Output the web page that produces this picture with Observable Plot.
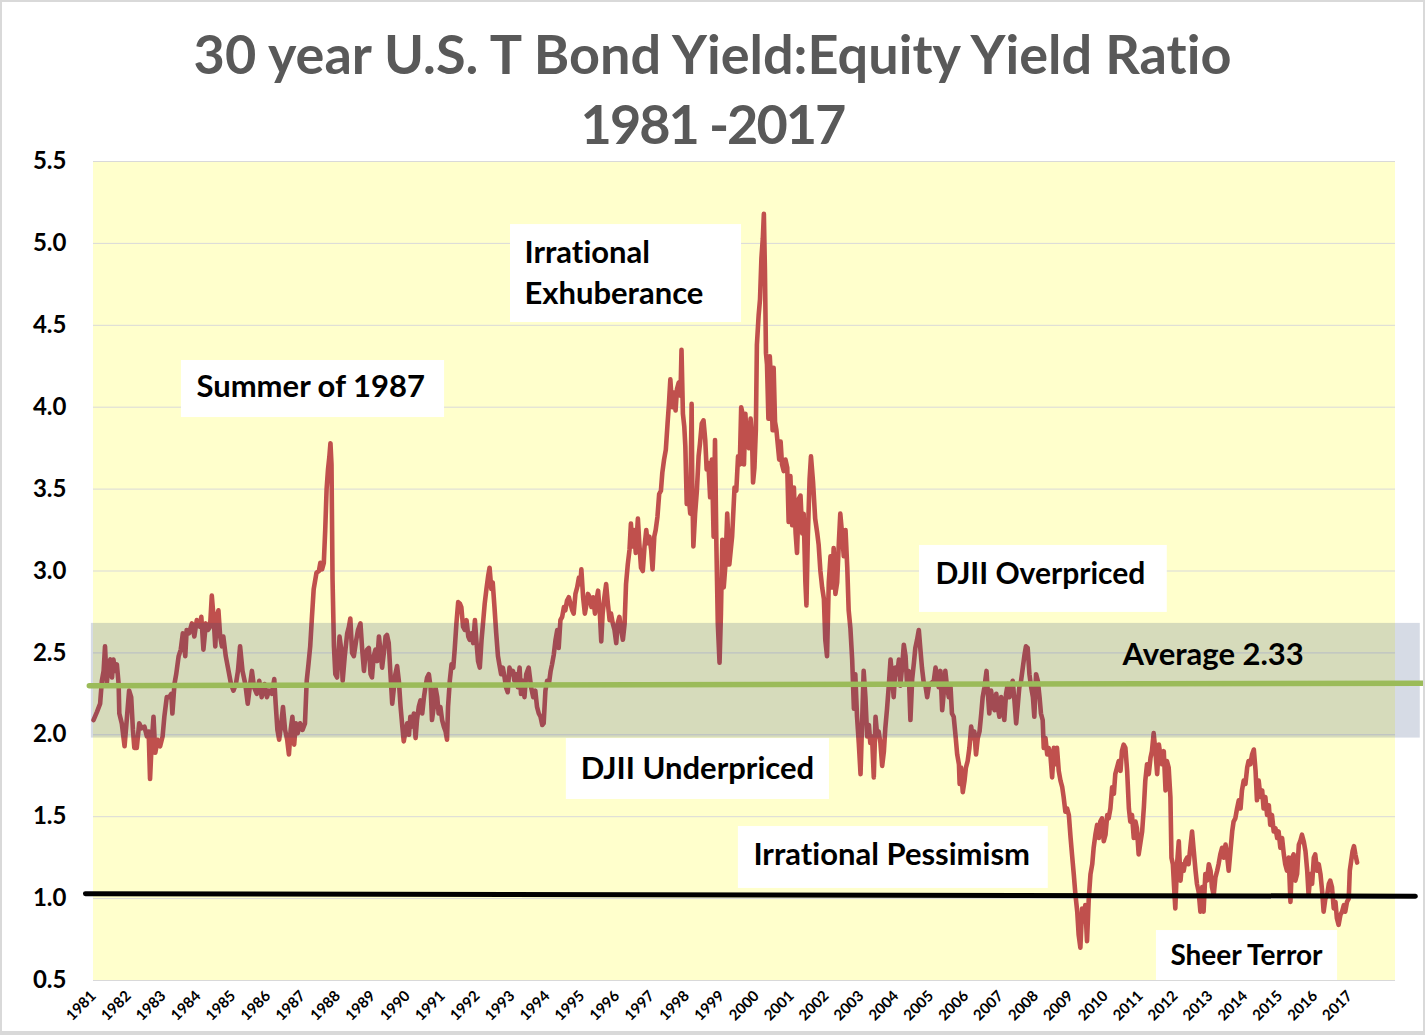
<!DOCTYPE html>
<html><head><meta charset="utf-8">
<script src="https://cdn.jsdelivr.net/npm/d3@7"></script>
<script src="https://cdn.jsdelivr.net/npm/@observablehq/plot@0.6"></script>
<style>
html,body{margin:0;padding:0;background:#fff;}
#wrap{position:relative;width:1425px;height:1035px;overflow:hidden;font-family:Lato,"Open Sans",sans-serif;font-variant-ligatures:none;}
#title{height:140px;box-sizing:border-box;padding-top:19px;text-align:center;font-weight:700;font-size:54px;line-height:70px;color:#595959;white-space:nowrap;font-variant-ligatures:none;}
#title .l2{letter-spacing:-2px;}
#chart svg{display:block;overflow:visible;font-variant-ligatures:none;}
#frame{position:absolute;left:0;top:0;width:1425px;height:1035px;box-sizing:border-box;border:2px solid #d9d9d9;border-bottom-width:4px;pointer-events:none;}
</style></head><body>
<div id="wrap">
  <div id="title"><div>30 year U.S. T Bond Yield:Equity Yield Ratio</div><div class="l2">1981 -2017</div></div>
  <div id="chart"></div>
  <div id="frame"></div>
</div>
<script>
// ---- DATA ----
const tickYears = [1981,1982,1983,1984,1985,1986,1987,1988,1989,1990,1991,1992,1993,1994,1995,1996,1997,1998,1999,2000,2001,2002,2003,2004,2005,2006,2007,2008,2009,2010,2011,2012,2013,2014,2015,2016,2017];
const yTicks = [0.5,1.0,1.5,2.0,2.5,3.0,3.5,4.0,4.5,5.0,5.5];

// [year, bond yield : equity yield ratio]
const ratioSeries = [
[1981.00,2.09],[1981.10,2.14],[1981.19,2.19],[1981.24,2.33],[1981.29,2.39],[1981.33,2.54],[1981.38,2.31],[1981.43,2.43],[1981.48,2.46],[1981.53,2.35],[1981.57,2.46],[1981.62,2.39],[1981.67,2.43],[1981.72,2.31],[1981.74,2.13],[1981.81,2.07],[1981.89,1.93],[1981.96,2.11],
[1982.02,2.27],[1982.08,2.23],[1982.13,2.03],[1982.17,1.92],[1982.24,1.92],[1982.31,2.07],[1982.38,2.04],[1982.46,2.05],[1982.53,1.99],[1982.58,2.02],[1982.62,1.73],[1982.67,1.96],[1982.72,2.11],[1982.77,1.89],[1982.84,1.97],[1982.91,1.93],[1982.98,1.99],
[1983.03,2.11],[1983.10,2.23],[1983.17,2.23],[1983.23,2.25],[1983.26,2.13],[1983.32,2.31],[1983.37,2.37],[1983.44,2.48],[1983.50,2.52],[1983.56,2.62],[1983.63,2.48],[1983.67,2.64],[1983.74,2.62],[1983.82,2.68],[1983.89,2.60],[1983.96,2.70],
[1984.04,2.66],[1984.09,2.72],[1984.15,2.52],[1984.22,2.68],[1984.28,2.64],[1984.34,2.66],[1984.39,2.85],[1984.44,2.72],[1984.49,2.54],[1984.53,2.72],[1984.58,2.76],[1984.63,2.60],[1984.68,2.54],[1984.72,2.60],[1984.79,2.48],[1984.87,2.39],[1984.94,2.31],
[1985.01,2.27],[1985.08,2.31],[1985.14,2.39],[1985.20,2.54],[1985.27,2.39],[1985.35,2.31],[1985.42,2.19],[1985.49,2.31],[1985.54,2.39],[1985.60,2.29],[1985.68,2.25],[1985.75,2.33],[1985.82,2.23],[1985.90,2.31],[1985.97,2.23],
[1986.03,2.27],[1986.11,2.25],[1986.18,2.34],[1986.22,2.19],[1986.27,2.03],[1986.32,1.97],[1986.38,2.07],[1986.43,2.17],[1986.49,2.03],[1986.55,1.97],[1986.60,1.88],[1986.65,2.03],[1986.70,2.11],[1986.75,1.94],[1986.80,2.07],[1986.85,2.01],[1986.92,2.07],[1986.99,2.03],
[1987.06,2.07],[1987.11,2.33],[1987.16,2.43],[1987.21,2.54],[1987.26,2.72],[1987.31,2.89],[1987.39,2.99],[1987.46,3.00],[1987.50,3.05],[1987.55,3.01],[1987.60,3.05],[1987.64,3.25],[1987.68,3.50],[1987.72,3.62],[1987.76,3.70],[1987.79,3.78],[1987.82,3.65],[1987.85,2.95],[1987.89,2.54],[1987.93,2.37],[1987.98,2.35],
[1988.05,2.60],[1988.10,2.52],[1988.14,2.33],[1988.20,2.48],[1988.27,2.62],[1988.32,2.66],[1988.36,2.71],[1988.41,2.50],[1988.46,2.48],[1988.53,2.58],[1988.58,2.64],[1988.65,2.68],[1988.70,2.52],[1988.75,2.39],[1988.79,2.48],[1988.84,2.52],[1988.89,2.53],[1988.94,2.37],[1988.98,2.35],
[1989.03,2.48],[1989.08,2.52],[1989.13,2.45],[1989.18,2.60],[1989.22,2.52],[1989.27,2.41],[1989.32,2.50],[1989.37,2.60],[1989.41,2.61],[1989.46,2.56],[1989.51,2.37],[1989.56,2.19],[1989.61,2.29],[1989.65,2.37],[1989.70,2.42],[1989.75,2.33],[1989.80,2.17],[1989.85,2.05],[1989.89,1.96],[1989.94,2.02],[1989.99,2.07],
[1990.04,2.00],[1990.08,2.11],[1990.13,2.05],[1990.18,2.13],[1990.23,1.98],[1990.27,2.09],[1990.32,2.17],[1990.37,2.21],[1990.42,2.13],[1990.47,2.23],[1990.51,2.29],[1990.56,2.35],[1990.61,2.37],[1990.66,2.29],[1990.70,2.09],[1990.75,2.17],[1990.80,2.29],[1990.85,2.23],[1990.89,2.13],[1990.94,2.17],[1990.99,2.09],
[1991.04,2.05],[1991.09,2.02],[1991.13,1.97],[1991.16,2.17],[1991.21,2.33],[1991.26,2.43],[1991.31,2.41],[1991.35,2.52],[1991.40,2.68],[1991.45,2.81],[1991.50,2.80],[1991.54,2.78],[1991.59,2.66],[1991.64,2.64],[1991.69,2.70],[1991.74,2.60],[1991.78,2.58],[1991.83,2.62],[1991.88,2.56],[1991.93,2.70],[1991.97,2.58],
[1992.02,2.45],[1992.07,2.41],[1992.12,2.58],[1992.17,2.70],[1992.21,2.80],[1992.26,2.89],[1992.31,2.97],[1992.35,3.02],[1992.40,2.89],[1992.44,2.93],[1992.49,2.78],[1992.54,2.62],[1992.59,2.48],[1992.63,2.43],[1992.68,2.37],[1992.73,2.41],[1992.78,2.35],[1992.82,2.29],[1992.87,2.26],[1992.92,2.41],[1992.97,2.37],
[1993.02,2.39],[1993.06,2.33],[1993.11,2.37],[1993.16,2.29],[1993.21,2.41],[1993.25,2.25],[1993.30,2.33],[1993.35,2.23],[1993.40,2.37],[1993.47,2.41],[1993.54,2.29],[1993.60,2.23],[1993.66,2.27],[1993.71,2.17],[1993.76,2.13],[1993.81,2.11],[1993.86,2.06],[1993.90,2.07],[1993.95,2.27],
[1994.00,2.33],[1994.05,2.31],[1994.10,2.39],[1994.14,2.43],[1994.19,2.49],[1994.24,2.58],[1994.29,2.64],[1994.33,2.53],[1994.38,2.70],[1994.43,2.72],[1994.48,2.78],[1994.52,2.76],[1994.57,2.82],[1994.62,2.84],[1994.67,2.80],[1994.72,2.76],[1994.76,2.74],[1994.81,2.86],[1994.86,2.90],[1994.91,2.96],[1994.95,2.92],[1994.98,3.01],
[1995.03,2.84],[1995.08,2.74],[1995.13,2.80],[1995.17,2.86],[1995.22,2.84],[1995.27,2.78],[1995.32,2.84],[1995.37,2.74],[1995.41,2.82],[1995.46,2.88],[1995.51,2.74],[1995.55,2.57],[1995.59,2.74],[1995.64,2.84],[1995.69,2.92],[1995.74,2.80],[1995.79,2.70],[1995.83,2.74],[1995.88,2.68],[1995.93,2.64],[1995.98,2.56],
[1996.02,2.68],[1996.07,2.72],[1996.12,2.64],[1996.17,2.58],[1996.22,2.68],[1996.26,2.92],[1996.31,3.04],[1996.36,3.13],[1996.40,3.29],[1996.44,3.15],[1996.49,3.25],[1996.54,3.11],[1996.60,3.32],[1996.64,3.17],[1996.69,3.02],[1996.74,3.00],[1996.79,3.15],[1996.84,3.25],[1996.88,3.17],[1996.93,3.21],[1996.98,3.13],
[1997.02,3.01],[1997.07,3.21],[1997.11,3.25],[1997.16,3.33],[1997.21,3.47],[1997.26,3.49],[1997.30,3.60],[1997.35,3.68],[1997.40,3.74],[1997.45,3.90],[1997.49,4.02],[1997.53,4.17],[1997.58,4.00],[1997.63,4.09],[1997.68,3.98],[1997.72,4.11],[1997.77,4.15],[1997.82,4.07],[1997.85,4.35],[1997.89,3.96],[1997.93,3.88],[1997.96,3.76],
[1998.00,3.41],[1998.06,3.45],[1998.10,3.35],[1998.14,4.02],[1998.16,3.49],[1998.19,3.15],[1998.24,3.35],[1998.29,3.49],[1998.34,3.70],[1998.38,3.78],[1998.43,3.90],[1998.48,3.92],[1998.53,3.80],[1998.57,3.62],[1998.62,3.66],[1998.67,3.45],[1998.72,3.68],[1998.77,3.21],[1998.81,3.80],[1998.85,3.15],[1998.89,2.68],[1998.94,2.44],[1998.98,2.74],
[1999.02,3.19],[1999.06,2.90],[1999.11,3.04],[1999.16,3.35],[1999.22,3.04],[1999.30,3.21],[1999.37,3.51],[1999.42,3.49],[1999.47,3.70],[1999.52,3.65],[1999.56,4.00],[1999.60,3.96],[1999.64,3.65],[1999.68,3.96],[1999.73,3.77],[1999.78,3.75],[1999.83,3.93],[1999.87,3.82],[1999.90,3.54],[1999.94,3.63],[1999.98,3.86],
[2000.01,4.38],[2000.06,4.56],[2000.10,4.66],[2000.14,4.91],[2000.18,5.03],[2000.21,5.18],[2000.24,4.84],[2000.27,4.33],[2000.30,4.26],[2000.34,3.93],[2000.38,4.31],[2000.42,4.14],[2000.46,3.86],[2000.49,4.24],[2000.53,3.91],[2000.57,3.86],[2000.61,3.77],[2000.65,3.68],[2000.69,3.79],[2000.73,3.65],[2000.78,3.61],[2000.83,3.68],[2000.88,3.63],[2000.92,3.30],[2000.97,3.58],
[2001.02,3.28],[2001.07,3.51],[2001.12,3.23],[2001.16,3.11],[2001.21,3.44],[2001.26,3.46],[2001.31,3.23],[2001.35,3.35],[2001.40,2.93],[2001.43,2.79],[2001.47,3.21],[2001.52,3.56],[2001.56,3.70],[2001.62,3.54],[2001.68,3.32],[2001.74,3.23],[2001.78,3.16],[2001.83,3.00],[2001.88,2.90],[2001.93,2.83],[2001.97,2.58],
[2002.02,2.48],[2002.07,2.93],[2002.12,3.09],[2002.17,2.90],[2002.21,3.14],[2002.26,2.86],[2002.31,2.93],[2002.36,3.18],[2002.40,3.35],[2002.45,3.23],[2002.50,3.09],[2002.55,3.25],[2002.60,3.02],[2002.64,2.76],[2002.69,2.65],[2002.74,2.46],[2002.79,2.16],[2002.83,2.37],[2002.88,2.11],[2002.93,1.95],[2002.98,1.76],
[2003.03,2.11],[2003.07,2.39],[2003.12,2.23],[2003.17,1.99],[2003.22,2.06],[2003.26,1.95],[2003.31,1.99],[2003.36,1.74],[2003.41,2.11],[2003.46,1.99],[2003.50,2.02],[2003.55,1.95],[2003.60,1.81],[2003.65,1.90],[2003.69,2.04],[2003.74,2.16],[2003.79,2.30],[2003.84,2.46],[2003.89,2.34],[2003.93,2.23],[2003.98,2.41],
[2004.03,2.37],[2004.08,2.46],[2004.12,2.30],[2004.17,2.41],[2004.22,2.55],[2004.27,2.48],[2004.31,2.32],[2004.36,2.39],[2004.41,2.09],[2004.46,2.34],[2004.51,2.44],[2004.55,2.53],[2004.60,2.58],[2004.65,2.64],[2004.70,2.51],[2004.74,2.41],[2004.79,2.32],[2004.84,2.30],[2004.89,2.23],[2004.94,2.30],
[2005.08,2.33],[2005.13,2.41],[2005.17,2.37],[2005.22,2.29],[2005.27,2.39],[2005.32,2.15],[2005.37,2.27],[2005.41,2.39],[2005.46,2.29],[2005.51,2.23],[2005.56,2.29],[2005.60,2.13],[2005.65,2.11],[2005.70,2.00],[2005.75,1.88],[2005.80,1.82],[2005.82,1.70],[2005.86,1.80],[2005.91,1.65],[2005.96,1.72],
[2006.00,1.80],[2006.05,1.84],[2006.10,1.92],[2006.15,2.05],[2006.20,1.98],[2006.24,2.02],[2006.29,1.88],[2006.34,1.98],[2006.39,2.02],[2006.44,2.13],[2006.48,2.23],[2006.53,2.29],[2006.59,2.39],[2006.63,2.25],[2006.67,2.13],[2006.72,2.27],[2006.77,2.19],[2006.82,2.15],[2006.87,2.25],[2006.91,2.17],[2006.96,2.11],
[2007.01,2.23],[2007.06,2.19],[2007.10,2.09],[2007.15,2.25],[2007.20,2.31],[2007.25,2.23],[2007.29,2.29],[2007.34,2.33],[2007.39,2.21],[2007.44,2.07],[2007.49,2.19],[2007.53,2.29],[2007.58,2.33],[2007.63,2.41],[2007.68,2.49],[2007.72,2.54],[2007.77,2.53],[2007.82,2.37],[2007.87,2.29],[2007.92,2.23],[2007.96,2.11],
[2008.01,2.37],[2008.06,2.33],[2008.11,2.23],[2008.15,2.13],[2008.20,2.09],[2008.23,1.92],[2008.28,1.98],[2008.33,1.88],[2008.37,1.92],[2008.42,1.88],[2008.47,1.74],[2008.52,1.92],[2008.57,1.82],[2008.61,1.92],[2008.66,1.78],[2008.71,1.72],[2008.76,1.68],[2008.80,1.62],[2008.85,1.53],[2008.90,1.55],[2008.95,1.51],
[2009.00,1.37],[2009.04,1.27],[2009.09,1.15],[2009.14,1.02],[2009.19,0.92],[2009.23,0.78],[2009.28,0.70],[2009.33,0.94],[2009.38,0.86],[2009.42,0.96],[2009.47,0.74],[2009.52,1.00],[2009.57,1.15],[2009.62,1.21],[2009.66,1.31],[2009.71,1.39],[2009.76,1.45],[2009.81,1.37],[2009.85,1.47],[2009.90,1.49],[2009.95,1.35],
[2010.00,1.39],[2010.05,1.51],[2010.09,1.49],[2010.14,1.55],[2010.19,1.68],[2010.24,1.64],[2010.28,1.76],[2010.33,1.80],[2010.38,1.84],[2010.43,1.78],[2010.47,1.90],[2010.52,1.94],[2010.57,1.92],[2010.62,1.78],[2010.67,1.55],[2010.71,1.47],[2010.76,1.51],[2010.81,1.37],[2010.86,1.47],[2010.90,1.43],[2010.95,1.27],
[2011.05,1.41],[2011.10,1.56],[2011.14,1.72],[2011.19,1.82],[2011.24,1.76],[2011.29,1.86],[2011.33,1.90],[2011.38,2.01],[2011.43,1.90],[2011.48,1.76],[2011.53,1.94],[2011.57,1.88],[2011.62,1.82],[2011.67,1.90],[2011.72,1.66],[2011.76,1.84],[2011.81,1.80],[2011.86,1.62],[2011.89,1.25],[2011.93,1.21],[2011.96,1.09],
[2012.00,0.94],[2012.05,1.21],[2012.10,1.35],[2012.15,1.11],[2012.19,1.21],[2012.24,1.17],[2012.29,1.23],[2012.34,1.25],[2012.38,1.21],[2012.43,1.31],[2012.48,1.41],[2012.53,1.29],[2012.58,1.17],[2012.62,1.09],[2012.67,1.04],[2012.72,0.92],[2012.77,1.07],[2012.81,0.92],[2012.86,1.15],[2012.91,1.11],[2012.96,1.21],
[2013.01,1.17],[2013.05,1.07],[2013.10,1.02],[2013.15,1.13],[2013.20,1.17],[2013.24,1.21],[2013.29,1.27],[2013.34,1.31],[2013.39,1.25],[2013.44,1.33],[2013.48,1.27],[2013.53,1.17],[2013.58,1.29],[2013.63,1.41],[2013.67,1.47],[2013.72,1.49],[2013.77,1.55],[2013.82,1.60],[2013.87,1.55],[2013.91,1.66],[2013.96,1.72],
[2014.01,1.70],[2014.06,1.80],[2014.10,1.84],[2014.15,1.82],[2014.20,1.88],[2014.25,1.91],[2014.30,1.78],[2014.34,1.60],[2014.39,1.72],[2014.44,1.62],[2014.49,1.66],[2014.53,1.55],[2014.58,1.62],[2014.63,1.51],[2014.68,1.57],[2014.72,1.45],[2014.77,1.51],[2014.82,1.41],[2014.87,1.43],[2014.92,1.37],[2014.96,1.41],
[2015.01,1.31],[2015.06,1.37],[2015.11,1.27],[2015.15,1.21],[2015.20,1.17],[2015.25,1.25],[2015.30,0.98],[2015.35,1.25],[2015.39,1.27],[2015.44,1.11],[2015.49,1.15],[2015.54,1.33],[2015.58,1.35],[2015.63,1.39],[2015.68,1.35],[2015.73,1.29],[2015.78,1.17],[2015.82,1.02],[2015.87,1.15],[2015.92,1.09],[2015.97,1.25],
[2016.01,1.27],[2016.06,1.17],[2016.11,1.21],[2016.16,1.15],[2016.21,1.04],[2016.25,0.92],[2016.30,1.00],[2016.35,1.02],[2016.40,1.09],[2016.44,1.11],[2016.49,1.07],[2016.54,0.94],[2016.59,0.98],[2016.63,0.88],[2016.68,0.84],[2016.73,0.90],[2016.78,0.92],[2016.83,0.96],[2016.87,0.92],[2016.92,0.98],[2016.97,1.00],
[2017.00,1.17],[2017.04,1.23],[2017.08,1.29],[2017.12,1.32],[2017.16,1.27],[2017.21,1.22]
];

const averageLine = [[1980.88, 2.30], [2019.18, 2.315]];   // drawn average level
const parityLine  = [[1980.77, 1.03], [2018.88, 1.015]];   // 1.0 threshold line
const averageBand = [1.98, 2.68];                           // shaded zone around average
const annotationTexts = ["Summer of 1987", "Irrational\nExhuberance", "DJII Overpriced", "Average 2.33", "DJII Underpriced", "Irrational Pessimism", "Sheer Terror"];

// ---- LAYOUT (positions in data units, kept apart from the data) ----
const plotArea = {x1: 1981, x2: 2018.31, y1: 0.5, y2: 5.5};
const bandSpan = {x1: 1980.94, x2: 2019.02};
const annotationLayout = [
  {box: [1983.52, 1991.06, 3.937, 4.285], at: [1983.95, 4.126], size: 31},
  {box: [1992.95, 1999.57, 4.517, 5.115], at: [1993.35, 4.816], size: 31},
  {box: [2004.67, 2011.77, 2.747, 3.156], at: [2005.13, 2.98],  size: 30},
  {box: null,                             at: [2010.49, 2.487], size: 31},
  {box: [1994.55, 2002.09, 1.605, 1.977], at: [1994.96, 1.791], size: 31},
  {box: [1999.48, 2008.36, 1.062, 1.440], at: [1999.91, 1.266], size: 31},
  {box: [2011.46, 2016.65, 0.5, 0.805],   at: [2011.86, 0.647], size: 28}
];

// ---- BUILD ----
const series = ratioSeries.map(([year, value]) => ({year, value}));
const avg = averageLine.map(([year, value]) => ({year, value}));
const par = parityLine.map(([year, value]) => ({year, value}));
const grid = yTicks.map(v => ({y: v, x1: plotArea.x1, x2: plotArea.x2}));
const boxes = annotationLayout.filter(d => d.box).map(d => ({x1: d.box[0], x2: d.box[1], y1: d.box[2], y2: d.box[3]}));
const labels = annotationTexts.map((t, i) => ({text: t, x: annotationLayout[i].at[0], y: annotationLayout[i].at[1], size: annotationLayout[i].size}));

const chart = Plot.plot({
  width: 1425, height: 895,
  marginLeft: 93, marginRight: 30, marginTop: 21, marginBottom: 55,
  x: {domain: [plotArea.x1, plotArea.x2], label: null},
  y: {domain: [plotArea.y1, plotArea.y2], label: null},
  style: {fontFamily: "Lato, 'Open Sans', sans-serif", color: "#000", background: "transparent", overflow: "visible"},
  marks: [
    Plot.rect([plotArea], {x1: "x1", x2: "x2", y1: "y1", y2: "y2", fill: "#FFFFCC"}),
    Plot.ruleY(grid, {y: "y", x1: "x1", x2: "x2", stroke: "#d9d9d9", strokeWidth: 1}),
    Plot.rect(boxes, {x1: "x1", x2: "x2", y1: "y1", y2: "y2", fill: "#ffffff"}),
    Plot.line(series, {x: "year", y: "value", stroke: "#C0504D", strokeWidth: 4.6, strokeLinejoin: "round", strokeLinecap: "round"}),
    Plot.rect([{x1: bandSpan.x1, x2: bandSpan.x2, y1: averageBand[0], y2: averageBand[1]}], {x1: "x1", x2: "x2", y1: "y1", y2: "y2", fill: "rgb(28,55,111)", fillOpacity: 0.18}),
    Plot.line(par, {x: "year", y: "value", stroke: "#000", strokeOpacity: 0.35, strokeWidth: 5, dy: 3, ariaLabel: "shadow"}),
    Plot.line(par, {x: "year", y: "value", stroke: "#000", strokeWidth: 5}),
    Plot.line(avg, {x: "year", y: "value", stroke: "#000", strokeOpacity: 0.3, strokeWidth: 5, dy: 3, ariaLabel: "shadow"}),
    Plot.line(avg, {x: "year", y: "value", stroke: "#9BBB59", strokeWidth: 5.5}),
    Plot.text(labels, {x: "x", y: "y", text: "text", textAnchor: "start", fontSize: d => d.size, fontWeight: "bold", fill: "#000", lineHeight: 1.33, dy: -3}),
    Plot.axisY({ticks: yTicks, tickSize: 0, tickPadding: 27, tickFormat: d => d.toFixed(1), fontSize: 24, fontWeight: "bold"}),
    Plot.axisX({ticks: tickYears, tickSize: 0, tickPadding: 13, tickRotate: -45, tickFormat: d => String(d), fontSize: 15, fontWeight: "bold"})
  ]
});
d3.select(chart).selectAll('g[aria-label="shadow"]').style("filter", "blur(1.5px)");
document.getElementById("chart").appendChild(chart);
</script>
</body></html>
